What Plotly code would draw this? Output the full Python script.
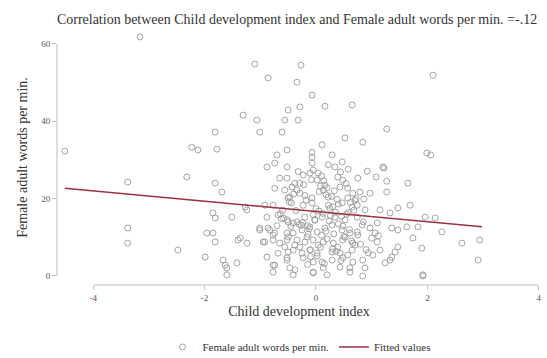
import plotly.graph_objects as go

# Scatter: Child development index (x) vs Female adult words per min. (y)
child_dev = [
    -4.51, -3.16, -1.10, -0.27, -0.86, -0.34, -0.07, -0.29, -0.50, 0.16, 0.65, -1.06, -0.56, -0.32,
    -1.01, -0.61, 1.27, 0.52, 0.84, 0.11, -0.07, -0.70, -0.52, 0.29, 2.10, -1.31, -1.81, -2.23,
    -2.12, -1.78, 1.99, 2.06, 0.92, 1.22, 1.08, 1.27, 1.65, 0.75, 0.79, 0.97, 1.27, 1.20,
    -0.07, -0.88, -0.74, -0.52, -0.07, -0.11, 0.04, 0.34, 0.47, -0.23, -0.65, -0.52, -0.29, 0.02,
    0.39, 0.48, 0.16, -0.43, -0.56, -0.29, 0.13, 0.43, 0.57, 0.66, -0.74, -0.50, -0.07, 0.22, 0.57,
    -3.38, -2.32, -1.81, -1.69, -1.85, -1.81, -1.51, -1.27, -1.24, -3.38, -3.38, -2.48, -1.96, -1.85,
    -1.81, -1.99, -1.67, -1.63, -1.42, -1.36, -1.24, -1.01, -0.88, -0.92, -0.77, -0.92, -0.77, -0.88,
    -0.77, -0.52, -0.41, -0.47, -0.65, -0.86, -0.74, -0.52, -0.41, -0.50, -0.34, -0.47, -0.34, -0.38,
    -0.68, -0.50, -0.34, -0.20, -0.05, 0.11, -0.23, -0.07, 0.22, 0.47, 0.65, 0.34, 0.52, 0.74,
    -1.01, -0.83, -0.77, -0.95, -0.52, -0.41, -0.25, -0.11, 0.02, 0.16, 0.29, 0.47, 0.61, 0.74,
    -1.40, -0.56, -0.38, -0.20, -0.05, 0.13, 0.31, 0.48, 0.66, -0.68, -0.50, -0.25, -0.11, 0.02,
    0.29, 0.43, 0.65, -0.52, -0.23, -0.05, 0.11, 0.29, 0.48, 0.66, -0.74, -1.60, -0.38, -0.05,
    0.13, 0.43, 0.61, -0.52, -0.29, -0.16, 0.04, 0.39, 0.57,
    0.74, 0.88, 1.15, 1.33, 1.47, 1.69, 1.96, 2.14, 0.83, 0.97, 1.10, 1.36, 1.47, 1.63, 1.83,
    0.75, 1.06, 1.10, 1.74, 2.26, 1.15, 1.47, 1.42, 1.36, 1.90, 2.62, 2.94, 0.84, 1.02, 0.88,
    1.24, 1.33, 2.91, 1.92,
    -1.60, -0.77, -0.41, -0.05, 0.20, 0.61, 0.84, 1.92,
    0.05, -0.15, 0.25, 0.40, -0.20, 0.10, 0.55, 0.70, -0.60, 0.30, -0.10, 0.85, 1.00, 0.20,
    -0.45, 0.35, 0.60, -0.15, 0.90, 1.12, -0.30, 0.08, 0.45, -0.62, 0.18, 0.52, 0.70, -0.02,
    -0.18, 0.06, 0.24, 0.38, -0.36, 0.14, 0.50, -0.05, 0.28, -0.26, 0.62, 0.44, -0.12, 0.20,
    0.00, -0.44, 0.33, 0.58, -0.22, 0.10, 0.72, -0.58, 0.36, 0.15, -0.32, 0.26, 0.48, -0.08,
    0.80, -0.70, 0.02, 0.40, -0.14, 0.64, 0.22, -0.40, 0.12, 0.54, 0.94, -0.24, 0.32, 0.68,
    -0.02, -0.48, 0.18, 0.86, 0.46, -0.10, 0.30, 0.08, -0.64, 0.58,
]
female_words = [
    32.3, 61.8, 54.8, 54.5, 51.2, 50.1, 46.8, 43.7, 42.9, 43.9, 44.2, 40.3, 40.3, 40.3,
    37.2, 37.2, 38.0, 35.7, 34.6, 33.9, 32.0, 31.3, 32.6, 31.3, 51.9, 41.6, 37.2, 33.3,
    32.6, 32.8, 31.8, 31.3, 27.1, 27.9, 25.6, 24.5, 24.0, 25.3, 21.7, 21.4, 21.7, 28.2,
    30.7, 28.2, 29.2, 28.2, 29.2, 26.6, 26.6, 28.2, 29.5, 26.1, 25.3, 25.3, 24.0, 24.8,
    25.6, 24.8, 23.5, 23.0, 22.2, 21.4, 22.2, 23.0, 22.7, 21.4, 22.7, 20.2, 20.2, 20.4, 20.2,
    24.3, 25.6, 24.0, 21.7, 16.3, 15.0, 15.2, 17.8, 17.1, 12.4, 8.5, 6.7, 11.1, 11.1,
    8.8, 4.9, 4.1, 2.8, 3.4, 9.8, 8.5, 11.9, 15.2, 18.3, 18.3, 8.8, 9.3, 4.9,
    2.8, 4.7, 6.7, 2.1, 8.5, 12.4, 11.1, 14.5, 13.7, 10.1, 9.3, 20.4, 22.2, 24.0,
    15.8, 14.0, 14.0, 15.2, 15.8, 15.2, 18.3, 18.9, 18.3, 18.9, 17.8, 15.2, 14.5, 15.2,
    12.4, 11.9, 10.6, 8.8, 9.3, 11.1, 11.9, 12.7, 11.4, 12.4, 13.2, 11.9, 11.1, 11.4,
    9.3, 7.5, 8.0, 8.8, 9.3, 8.8, 8.5, 9.3, 8.5, 5.9, 6.2, 5.9, 6.7, 5.9,
    6.2, 5.9, 6.7, 4.1, 4.7, 3.6, 3.6, 4.1, 4.7, 3.6, 2.8, 2.1, 1.6, 1.0,
    2.1, 2.3, 2.1, 11.1, 7.5, 10.1, 8.0, 7.5, 5.4,
    18.3, 17.1, 17.1, 16.3, 17.6, 18.3, 15.2, 15.0, 13.2, 12.4, 13.7, 12.4, 11.9, 12.7, 12.7,
    10.6, 11.1, 8.8, 9.8, 11.4, 6.7, 7.5, 6.2, 4.9, 7.2, 8.5, 9.3, 4.1, 5.4, 2.1,
    3.4, 4.1, 4.1, 0.3,
    0.3, 1.0, 0.3, 0.8, 0.3, 1.0, 0.0, 0.0,
    16.8, 13.0, 17.5, 13.5, 20.8, 10.5, 16.0, 19.5, 17.0, 7.0, 5.0, 14.0, 9.8, 22.8,
    12.8, 16.5, 12.0, 3.0, 6.8, 10.4, 13.3, 7.4, 4.0, 14.8, 21.0, 10.0, 8.0, 14.6,
    19.6, 21.8, 14.2, 19.8, 16.9, 24.6, 10.2, 27.4, 20.6, 13.1, 19.0, 26.9, 12.2, 9.6,
    17.4, 18.9, 22.0, 16.4, 23.6, 25.9, 20.0, 14.9, 6.4, 3.2, 27.0, 15.6, 12.9, 24.9,
    8.2, 13.0, 5.2, 18.6, 10.8, 9.1, 28.8, 21.2, 16.2, 23.9, 6.0, 13.8, 10.9, 17.0,
    14.4, 19.2, 11.6, 19.9, 15.4, 6.8, 17.9, 23.2, 16.1, 27.6,
]

# Fitted values line
fit_x = [-4.51, 2.98]
fit_y = [22.7, 12.7]

x_ticks = [-4, -2, 0, 2, 4]
y_ticks = [0, 20, 40, 60]

SERIF = "Liberation Serif"
AXIS_GRAY = "#bdbdbd"
TEXT = "#333333"
TICK_TEXT = "#555555"

fig = go.Figure()
fig.add_trace(go.Scatter(
    x=child_dev, y=female_words, mode="markers",
    name="Female adult words per min.",
    marker=dict(symbol="circle-open", size=6, color="#9a9a9a", line=dict(width=0.9)),
))
fig.add_trace(go.Scatter(
    x=fit_x, y=fit_y, mode="lines", name="Fitted values",
    line=dict(color="#9e2f45", width=1.5),
))

# Stata-style detached axis lines
fig.add_shape(type="line", xref="x", yref="paper", x0=x_ticks[0], x1=x_ticks[-1], y0=0, y1=0,
              line=dict(color=AXIS_GRAY, width=1))
fig.add_shape(type="line", xref="paper", yref="y", x0=0, x1=0, y0=y_ticks[0], y1=y_ticks[-1],
              line=dict(color=AXIS_GRAY, width=1))

fig.update_layout(
    width=547, height=358,
    margin=dict(l=57, r=6, t=30, b=73, autoexpand=False),
    paper_bgcolor="white", plot_bgcolor="white",
    font=dict(family=SERIF, color=TEXT),
    title=dict(text="Correlation between Child development index and Female adult words per min. =-.12",
               x=0.543, xanchor="center", y=0.948, yanchor="middle",
               font=dict(size=14, family=SERIF, color=TEXT)),
    showlegend=True,
    legend=dict(orientation="h", x=0.5, xanchor="center", y=-0.243, yanchor="middle",
                font=dict(size=11, family=SERIF, color=TEXT), itemwidth=30,
                bgcolor="rgba(0,0,0,0)"),
)
fig.update_xaxes(
    range=[-4.65, 4.04], tickvals=x_ticks, ticktext=[str(v) for v in x_ticks],
    showgrid=False, zeroline=False, showline=False, automargin=False,
    ticks="outside", ticklen=4, tickcolor=AXIS_GRAY,
    tickfont=dict(size=9, family=SERIF, color=TICK_TEXT),
    title=dict(text="Child development index", font=dict(size=14, family=SERIF), standoff=4),
)
fig.update_yaxes(
    range=[-2.33, 63.6], tickvals=y_ticks, ticktext=[str(v) for v in y_ticks],
    showgrid=False, zeroline=False, showline=False, automargin=False,
    ticks="outside", ticklen=4, tickcolor=AXIS_GRAY,
    tickfont=dict(size=9, family=SERIF, color=TICK_TEXT),
    title=dict(text="Female adult words per min.", font=dict(size=14, family=SERIF), standoff=10),
)

fig.write_html("out.html")
